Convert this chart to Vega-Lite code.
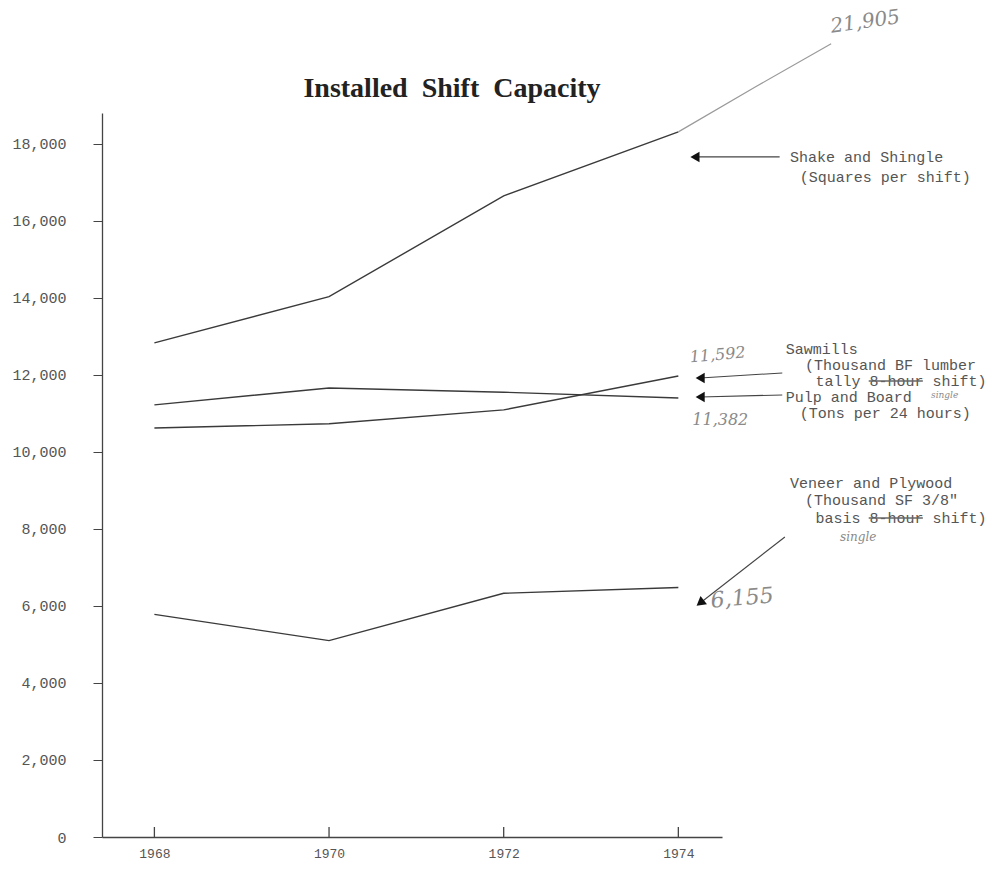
{
  "$schema": "https://vega.github.io/schema/vega-lite/v6.json",
  "autosize": {"type": "none"},
  "width": 620,
  "height": 724,
  "padding": {"left": 102, "top": 113, "right": 286, "bottom": 34},
  "background": "white",
  "title": {
    "text": "Installed\u00a0\u00a0Shift\u00a0\u00a0Capacity",
    "font": "Liberation Serif",
    "fontSize": 28,
    "fontWeight": "bold",
    "color": "#222222",
    "dx": 40,
    "dy": 110,
    "offset": 14
  },
  "config": {"view": {"stroke": null}},
  "datasets": {
    "series": [
      {"series": "Shake and Shingle", "year": 1968, "value": 12830},
      {"series": "Shake and Shingle", "year": 1970, "value": 14030},
      {"series": "Shake and Shingle", "year": 1972, "value": 16650},
      {"series": "Shake and Shingle", "year": 1974, "value": 18310},
      {"series": "Pulp and Board", "year": 1968, "value": 11220},
      {"series": "Pulp and Board", "year": 1970, "value": 11660},
      {"series": "Pulp and Board", "year": 1972, "value": 11550},
      {"series": "Pulp and Board", "year": 1974, "value": 11400},
      {"series": "Sawmills", "year": 1968, "value": 10620},
      {"series": "Sawmills", "year": 1970, "value": 10730},
      {"series": "Sawmills", "year": 1972, "value": 11090},
      {"series": "Sawmills", "year": 1974, "value": 11970},
      {"series": "Veneer and Plywood", "year": 1968, "value": 5780},
      {"series": "Veneer and Plywood", "year": 1970, "value": 5100},
      {"series": "Veneer and Plywood", "year": 1972, "value": 6330},
      {"series": "Veneer and Plywood", "year": 1974, "value": 6480}
    ],
    "extension": [
      {"year": 1974, "value": 18310},
      {"year": 1974.9, "value": 19500},
      {"year": 1975.75, "value": 20600}
    ],
    "xticks": [
      {"year": 1968, "lo": 0, "hi": 260},
      {"year": 1970, "lo": 0, "hi": 260},
      {"year": 1972, "lo": 0, "hi": 260},
      {"year": 1974, "lo": 0, "hi": 260}
    ],
    "labels": [
      {"x": 1975.28, "y": 17660, "text": "Shake and Shingle"},
      {"x": 1975.39, "y": 17140, "text": "(Squares per shift)"},
      {"x": 1975.23, "y": 12673, "text": "Sawmills"},
      {"x": 1975.45, "y": 12258, "text": "(Thousand BF lumber"},
      {"x": 1975.57, "y": 11842, "text": "tally 8-hour shift)"},
      {"x": 1975.23, "y": 11427, "text": "Pulp and Board"},
      {"x": 1975.39, "y": 11011, "text": "(Tons per 24 hours)"},
      {"x": 1975.28, "y": 9193, "text": "Veneer and Plywood"},
      {"x": 1975.45, "y": 8752, "text": "(Thousand SF 3/8\""},
      {"x": 1975.57, "y": 8284, "text": "basis 8-hour shift)"}
    ],
    "hand": [
      {"x": 1976.14, "y": 21166, "text": "21,905", "size": 20, "angle": -8},
      {"x": 1974.45, "y": 12518, "text": "11,592", "size": 16, "angle": -5},
      {"x": 1974.48, "y": 10829, "text": "11,382", "size": 16, "angle": 0},
      {"x": 1974.73, "y": 6207, "text": "6,155", "size": 22, "angle": -5},
      {"x": 1977.05, "y": 11480, "text": "single", "size": 9, "angle": 0},
      {"x": 1976.06, "y": 7791, "text": "single", "size": 12, "angle": 0}
    ],
    "arrows": [
      {"x": 1975.16, "x2": 1974.19, "y": 17660, "y2": 17660, "angle": 0},
      {"x": 1975.19, "x2": 1974.25, "y": 12050, "y2": 11920, "angle": 0},
      {"x": 1975.19, "x2": 1974.25, "y": 11479, "y2": 11427, "angle": 0},
      {"x": 1975.22, "x2": 1974.25, "y": 7791, "y2": 6077, "angle": -38}
    ],
    "strikes": [
      {"x": 1976.18, "x2": 1976.8, "y": 11842},
      {"x": 1976.18, "x2": 1976.8, "y": 8284}
    ]
  },
  "layer": [
    {
      "data": {"name": "series"},
      "mark": {"type": "line", "color": "#3a3a3a", "strokeWidth": 1.4},
      "encoding": {
        "x": {
          "field": "year",
          "type": "quantitative",
          "scale": {"domain": [1967.4, 1974.5], "nice": false, "zero": false},
          "axis": {
            "title": null,
            "values": [1968, 1970, 1972, 1974],
            "format": "d",
            "grid": false,
            "ticks": false,
            "domainColor": "#444444",
            "domainWidth": 1.3,
            "labelPadding": 10,
            "labelFont": "Liberation Mono",
            "labelFontSize": 13,
            "labelColor": "#555555"
          }
        },
        "y": {
          "field": "value",
          "type": "quantitative",
          "scale": {"domain": [0, 18800], "nice": false},
          "axis": {
            "title": null,
            "values": [0, 2000, 4000, 6000, 8000, 10000, 12000, 14000, 16000, 18000],
            "format": ",.0f",
            "grid": false,
            "domainColor": "#444444",
            "domainWidth": 1.3,
            "tickColor": "#444444",
            "tickSize": 9,
            "labelPadding": 27,
            "labelFont": "Liberation Mono",
            "labelFontSize": 15,
            "labelColor": "#555555"
          }
        },
        "detail": {"field": "series"}
      }
    },
    {
      "data": {"name": "xticks"},
      "mark": {"type": "rule", "color": "#444444", "strokeWidth": 1.3},
      "encoding": {
        "x": {"field": "year", "type": "quantitative"},
        "y": {"field": "lo", "type": "quantitative"},
        "y2": {"field": "hi"}
      }
    },
    {
      "data": {"name": "extension"},
      "mark": {"type": "line", "color": "#9a9a9a", "strokeWidth": 1.2},
      "encoding": {
        "x": {"field": "year", "type": "quantitative"},
        "y": {"field": "value", "type": "quantitative"}
      }
    },
    {
      "data": {"name": "labels"},
      "mark": {"type": "text", "align": "left", "baseline": "middle", "font": "Liberation Mono", "fontSize": 15, "color": "#555555"},
      "encoding": {
        "x": {"field": "x", "type": "quantitative"},
        "y": {"field": "y", "type": "quantitative"},
        "text": {"field": "text"}
      }
    },
    {
      "data": {"name": "strikes"},
      "mark": {"type": "rule", "color": "#666666", "strokeWidth": 1.5},
      "encoding": {
        "x": {"field": "x", "type": "quantitative"},
        "x2": {"field": "x2"},
        "y": {"field": "y", "type": "quantitative"}
      }
    },
    {
      "data": {"name": "hand"},
      "mark": {"type": "text", "align": "center", "baseline": "middle", "font": "DejaVu Serif", "fontStyle": "italic", "color": "#8a8a8a"},
      "encoding": {
        "x": {"field": "x", "type": "quantitative"},
        "y": {"field": "y", "type": "quantitative"},
        "text": {"field": "text"},
        "size": {"field": "size", "type": "quantitative", "scale": null},
        "angle": {"field": "angle", "type": "quantitative", "scale": null}
      }
    },
    {
      "data": {"name": "arrows"},
      "mark": {"type": "rule", "color": "#444444", "strokeWidth": 1.1},
      "encoding": {
        "x": {"field": "x", "type": "quantitative"},
        "x2": {"field": "x2"},
        "y": {"field": "y", "type": "quantitative"},
        "y2": {"field": "y2"}
      }
    },
    {
      "data": {"name": "arrows"},
      "mark": {"type": "point", "shape": "triangle-left", "filled": true, "color": "#111111", "size": 110, "opacity": 1},
      "encoding": {
        "x": {"field": "x2", "type": "quantitative"},
        "y": {"field": "y2", "type": "quantitative"},
        "angle": {"field": "angle", "type": "quantitative", "scale": null}
      }
    }
  ]
}
